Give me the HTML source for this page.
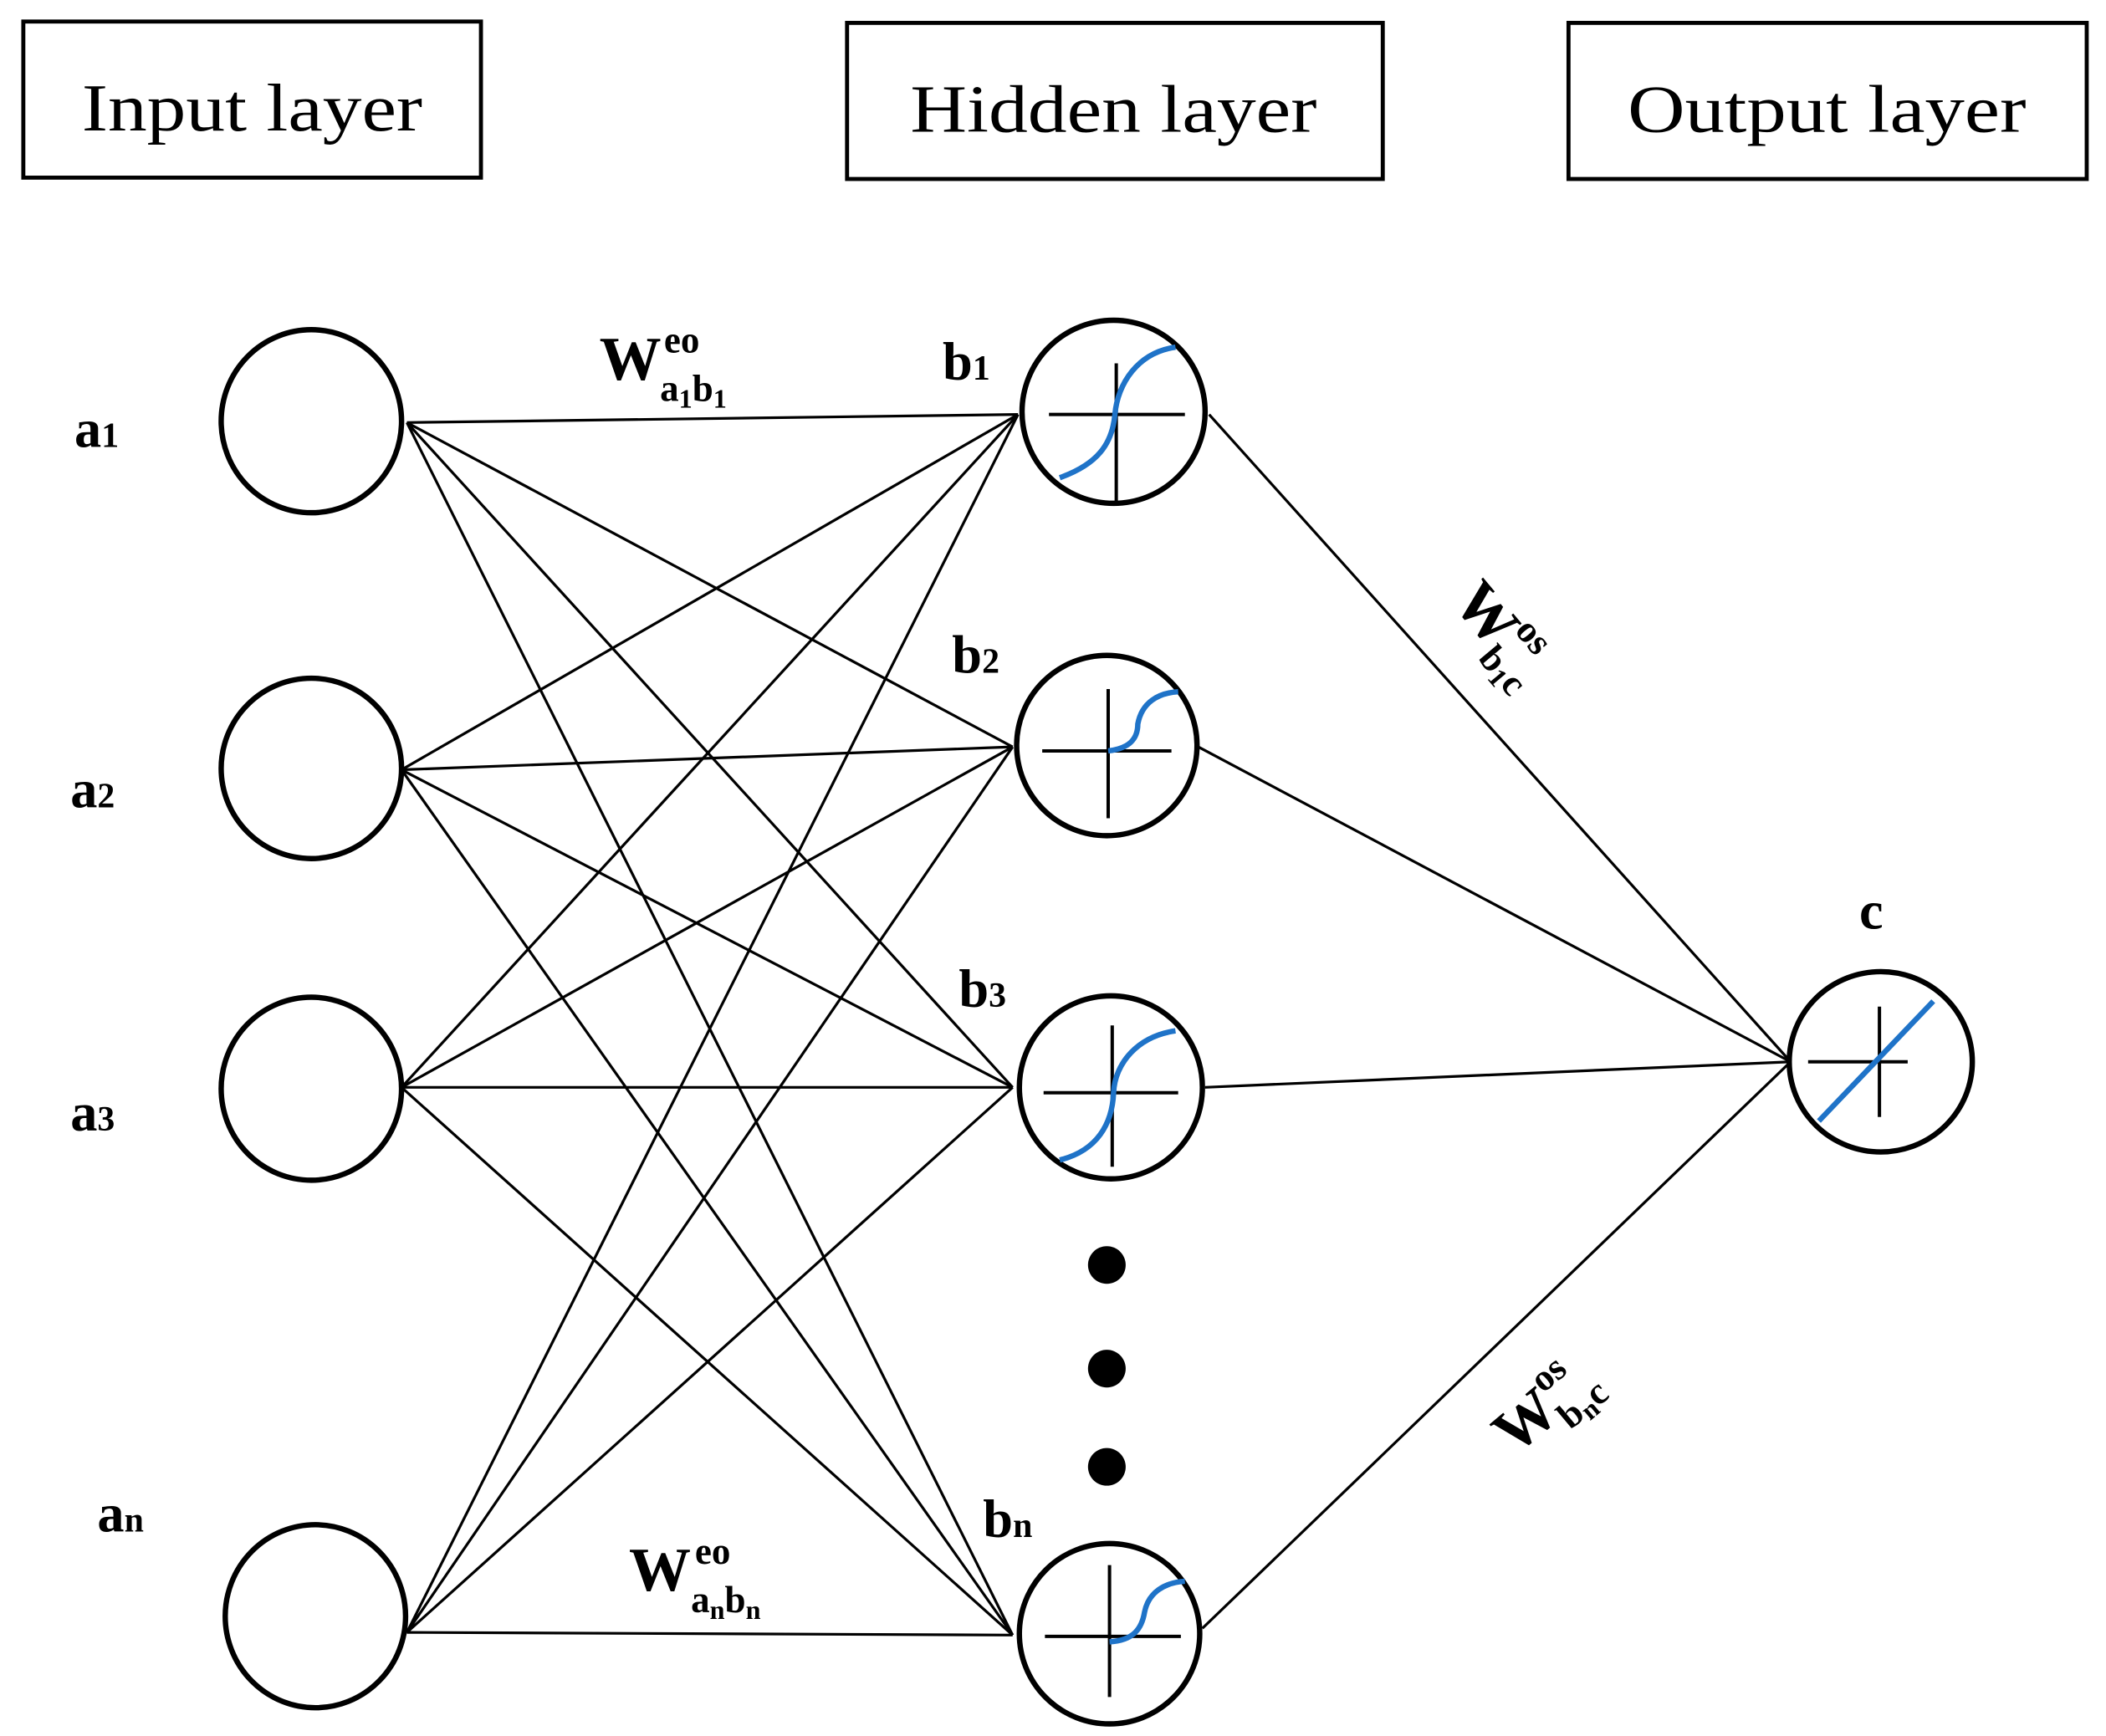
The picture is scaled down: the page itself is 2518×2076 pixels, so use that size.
<!DOCTYPE html>
<html><head><meta charset="utf-8"><style>
html,body{margin:0;padding:0;background:#fff;}
svg{display:block;}
text{font-family:"Liberation Serif",serif;fill:#000;}
.l{font-size:40px;font-weight:bold;}
.s{font-size:26px;}
.w{font-size:46px;font-weight:bold;}
.ss{font-size:28px;font-weight:bold;}
</style></head><body>
<svg width="2518" height="2076" viewBox="0 0 1564 1290" xmlns="http://www.w3.org/2000/svg">
<rect x="0" y="0" width="1564" height="1290" fill="#fff"/>
<g fill="none" stroke="#000" stroke-width="3">
<rect x="17" y="16" width="340" height="116"/>
<rect x="629" y="17" width="398" height="116"/>
<rect x="1165" y="17" width="385" height="116"/>
</g>
<text x="187" y="97" text-anchor="middle" font-size="50" textLength="253" lengthAdjust="spacingAndGlyphs">Input layer</text>
<text x="827" y="98" text-anchor="middle" font-size="50" textLength="302" lengthAdjust="spacingAndGlyphs">Hidden layer</text>
<text x="1357" y="98" text-anchor="middle" font-size="50" textLength="296" lengthAdjust="spacingAndGlyphs">Output layer</text>

<g stroke="#000" stroke-width="2" fill="none">
<line x1="302" y1="314" x2="756" y2="308"/>
<line x1="302" y1="314" x2="752" y2="555"/>
<line x1="302" y1="314" x2="752" y2="808"/>
<line x1="302" y1="314" x2="752" y2="1215"/>
<line x1="298" y1="572" x2="756" y2="308"/>
<line x1="298" y1="572" x2="752" y2="555"/>
<line x1="298" y1="572" x2="752" y2="808"/>
<line x1="298" y1="572" x2="752" y2="1215"/>
<line x1="298" y1="808" x2="756" y2="308"/>
<line x1="298" y1="808" x2="752" y2="555"/>
<line x1="298" y1="808" x2="752" y2="808"/>
<line x1="298" y1="808" x2="752" y2="1215"/>
<line x1="302" y1="1213" x2="756" y2="308"/>
<line x1="302" y1="1213" x2="752" y2="555"/>
<line x1="302" y1="1213" x2="752" y2="808"/>
<line x1="302" y1="1213" x2="752" y2="1215"/>
<line x1="898" y1="308" x2="1330" y2="789"/>
<line x1="890" y1="555" x2="1330" y2="789"/>
<line x1="895" y1="808" x2="1330" y2="789"/>
<line x1="893" y1="1210" x2="1330" y2="789"/>
</g>

<g stroke="#000" stroke-width="4" fill="#fff">
<ellipse cx="231" cy="313" rx="67" ry="68"/>
<ellipse cx="231" cy="571" rx="67" ry="67"/>
<ellipse cx="231" cy="809" rx="67" ry="68"/>
<ellipse cx="234" cy="1201" rx="67" ry="68"/>
<ellipse cx="827" cy="306" rx="68" ry="68"/>
<ellipse cx="822" cy="554" rx="67" ry="67"/>
<ellipse cx="825" cy="808" rx="68" ry="68"/>
<ellipse cx="824" cy="1214" rx="67" ry="67"/>
<ellipse cx="1397" cy="789" rx="68" ry="67"/>
</g>

<g stroke="#000" stroke-width="2.5">
<line x1="779" y1="308" x2="880" y2="308"/><line x1="829" y1="270" x2="829" y2="373"/>
<line x1="774" y1="558" x2="870" y2="558"/><line x1="823" y1="512" x2="823" y2="608"/>
<line x1="775" y1="812" x2="875" y2="812"/><line x1="826" y1="762" x2="826" y2="867"/>
<line x1="776" y1="1216" x2="877" y2="1216"/><line x1="824" y1="1163" x2="824" y2="1261"/>
<line x1="1343" y1="789" x2="1417" y2="789"/><line x1="1396" y1="748" x2="1396" y2="830"/>
</g>
<g stroke="#1f73c8" stroke-width="4" fill="none">
<path d="M787,355 C815,345 826,330 828,308 C830,285 845,262 873,258"/>
<path d="M823,558 C840,556 845,548 845,538 C848,522 860,515 875,514"/>
<path d="M787,862 C815,855 826,835 827,812 C828,790 845,770 873,766"/>
<path d="M824,1220 C842,1219 848,1210 850,1198 C853,1183 865,1176 880,1175"/>
<line x1="1351" y1="833" x2="1436" y2="744"/>
</g>

<g fill="#000">
<ellipse cx="822" cy="940" rx="14" ry="14"/>
<ellipse cx="822" cy="1017" rx="14" ry="14"/>
<ellipse cx="822" cy="1090" rx="14" ry="14"/>
</g>

<text class="l" x="55" y="332">a<tspan class="s">1</tspan></text>
<text class="l" x="52" y="600">a<tspan class="s">2</tspan></text>
<text class="l" x="52" y="840">a<tspan class="s">3</tspan></text>
<text class="l" x="72" y="1138">a<tspan class="s">n</tspan></text>
<text class="l" x="700" y="282">b<tspan class="s">1</tspan></text>
<text class="l" x="707" y="500">b<tspan class="s">2</tspan></text>
<text class="l" x="712" y="748">b<tspan class="s">3</tspan></text>
<text class="l" x="730" y="1142">b<tspan class="s">n</tspan></text>
<text class="l" x="1381" y="690">c</text>

<text class="w" x="445" y="282">W</text>
<text class="ss" x="493" y="262">eo</text>
<text class="ss" x="490" y="298">a<tspan font-size="20" dy="5">1</tspan><tspan dy="-5">b</tspan><tspan font-size="20" dy="5">1</tspan></text>

<text class="w" x="467" y="1182">W</text>
<text class="ss" x="516" y="1162">eo</text>
<text class="ss" x="513" y="1198">a<tspan font-size="20" dy="5">n</tspan><tspan dy="-5">b</tspan><tspan font-size="20" dy="5">n</tspan></text>

<g transform="translate(1078,448) rotate(50)">
<text class="w" x="0" y="0">W</text>
<text class="ss" x="46" y="-22">os</text>
<text class="ss" x="44" y="12">b<tspan font-size="20" dy="4">1</tspan><tspan dy="-4">c</tspan></text>
</g>
<g transform="translate(1125,1082) rotate(-40)">
<text class="w" x="0" y="0">W</text>
<text class="ss" x="46" y="-22">os</text>
<text class="ss" x="44" y="12">b<tspan font-size="20" dy="4">n</tspan><tspan dy="-4">c</tspan></text>
</g>
</svg>
</body></html>
